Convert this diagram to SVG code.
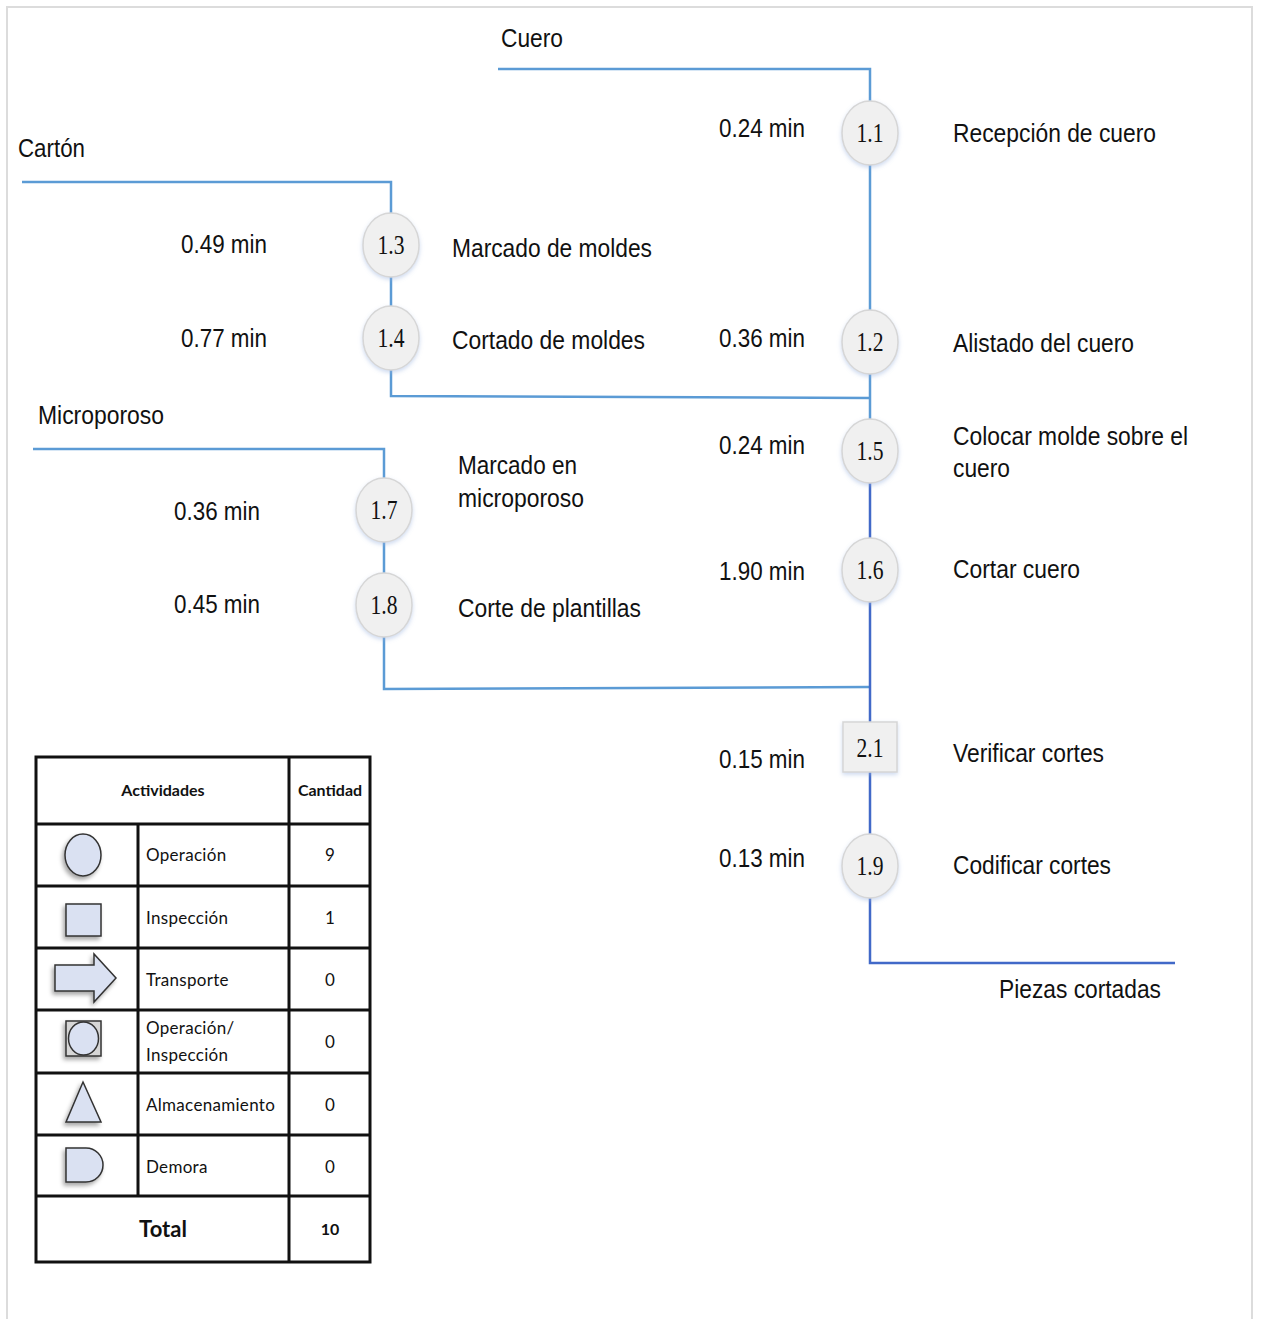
<svg xmlns="http://www.w3.org/2000/svg" width="1262" height="1319" viewBox="0 0 1262 1319">
  <defs>
    <filter id="soft" x="-30%" y="-30%" width="160%" height="160%">
      <feGaussianBlur in="SourceAlpha" stdDeviation="2"/>
      <feOffset dx="0" dy="2" result="b"/>
      <feFlood flood-color="#9bb4e0" flood-opacity="0.5"/>
      <feComposite in2="b" operator="in"/>
      <feMerge><feMergeNode/><feMergeNode in="SourceGraphic"/></feMerge>
    </filter>
    <filter id="drop" x="-30%" y="-30%" width="170%" height="170%">
      <feGaussianBlur in="SourceAlpha" stdDeviation="2"/>
      <feOffset dx="-2" dy="3" result="b"/>
      <feFlood flood-color="#000" flood-opacity="0.35"/>
      <feComposite in2="b" operator="in"/>
      <feMerge><feMergeNode/><feMergeNode in="SourceGraphic"/></feMerge>
    </filter>
  </defs>
  <style>
    .lbl { font-family: "Liberation Sans Narrow", "Liberation Sans", sans-serif; font-size: 26px; fill: #111; }
    .num { font-family: "Liberation Serif", serif; font-size: 27px; fill: #111; text-anchor: middle; }
    .op { fill: #f0f0f0; stroke: #d6d6d6; stroke-width: 1.5; filter: url(#soft); }
    .ln { fill: none; stroke: #5b9bd5; stroke-width: 2.5; }
    .ln2 { fill: none; stroke: #4169c8; stroke-width: 2.5; }
    .tb { font-family: Lato, "Open Sans", sans-serif; font-size: 17px; letter-spacing: 0.3px; fill: #111; }
    .tbb { font-family: Lato, "Open Sans", sans-serif; font-size: 16px; font-weight: bold; fill: #111; text-anchor: middle; }
    .tot { font-family: Lato, "Open Sans", sans-serif; font-size: 22px; font-weight: bold; fill: #111; text-anchor: middle; }
    .qty { font-family: Lato, "Open Sans", sans-serif; font-size: 17px; fill: #111; text-anchor: middle; }
    .grid { stroke: #111; stroke-width: 3; fill: none; }
    .sym { fill: #dae1f2; stroke: #333; stroke-width: 1.5; filter: url(#drop); }
  </style>

  <rect width="1262" height="1319" fill="#fff"/>
  <rect x="7" y="7" width="1245" height="1330" fill="none" stroke="#dcdcdc" stroke-width="2"/>

  <!-- connectors -->
  <g id="connectors">
    <polyline class="ln" points="498,69 870,69 870,450"/>
    <polyline class="ln" points="22,182 391,182 391,396 870,398"/>
    <polyline class="ln" points="33,449 384,449 384,689 870,687"/>
    <polyline class="ln2" points="870,450 870,963 1175,963"/>
  </g>

  <!-- material inputs and output -->
  <text class="lbl" x="501" y="47" textLength="62" lengthAdjust="spacingAndGlyphs">Cuero</text>
  <text class="lbl" x="18" y="157" textLength="67" lengthAdjust="spacingAndGlyphs">Cartón</text>
  <text class="lbl" x="38" y="424" textLength="126" lengthAdjust="spacingAndGlyphs">Microporoso</text>
  <text class="lbl" x="999" y="998" textLength="162" lengthAdjust="spacingAndGlyphs">Piezas cortadas</text>

  <g id="n1_1">
    <ellipse class="op" cx="870" cy="133" rx="28" ry="32"/>
    <text class="num" x="870" y="142" textLength="27" lengthAdjust="spacingAndGlyphs">1.1</text>
    <text class="lbl" x="719" y="137" textLength="86" lengthAdjust="spacingAndGlyphs">0.24 min</text>
    <text class="lbl" x="953" y="142" textLength="203" lengthAdjust="spacingAndGlyphs">Recepción de cuero</text>
  </g>
  <g id="n1_2">
    <ellipse class="op" cx="870" cy="342" rx="28" ry="32"/>
    <text class="num" x="870" y="351" textLength="27" lengthAdjust="spacingAndGlyphs">1.2</text>
    <text class="lbl" x="719" y="347" textLength="86" lengthAdjust="spacingAndGlyphs">0.36 min</text>
    <text class="lbl" x="953" y="352" textLength="181" lengthAdjust="spacingAndGlyphs">Alistado del cuero</text>
  </g>
  <g id="n1_3">
    <ellipse class="op" cx="391" cy="245" rx="28" ry="32"/>
    <text class="num" x="391" y="254" textLength="27" lengthAdjust="spacingAndGlyphs">1.3</text>
    <text class="lbl" x="181" y="253" textLength="86" lengthAdjust="spacingAndGlyphs">0.49 min</text>
    <text class="lbl" x="452" y="257" textLength="200" lengthAdjust="spacingAndGlyphs">Marcado de moldes</text>
  </g>
  <g id="n1_4">
    <ellipse class="op" cx="391" cy="338" rx="28" ry="32"/>
    <text class="num" x="391" y="347" textLength="27" lengthAdjust="spacingAndGlyphs">1.4</text>
    <text class="lbl" x="181" y="347" textLength="86" lengthAdjust="spacingAndGlyphs">0.77 min</text>
    <text class="lbl" x="452" y="349" textLength="193" lengthAdjust="spacingAndGlyphs">Cortado de moldes</text>
  </g>
  <g id="n1_5">
    <ellipse class="op" cx="870" cy="451" rx="28" ry="32"/>
    <text class="num" x="870" y="460" textLength="27" lengthAdjust="spacingAndGlyphs">1.5</text>
    <text class="lbl" x="719" y="454" textLength="86" lengthAdjust="spacingAndGlyphs">0.24 min</text>
    <text class="lbl" x="953" y="445" textLength="235" lengthAdjust="spacingAndGlyphs">Colocar molde sobre el</text>
    <text class="lbl" x="953" y="477" textLength="57" lengthAdjust="spacingAndGlyphs">cuero</text>
  </g>
  <g id="n1_6">
    <ellipse class="op" cx="870" cy="570" rx="28" ry="32"/>
    <text class="num" x="870" y="579" textLength="27" lengthAdjust="spacingAndGlyphs">1.6</text>
    <text class="lbl" x="719" y="580" textLength="86" lengthAdjust="spacingAndGlyphs">1.90 min</text>
    <text class="lbl" x="953" y="578" textLength="127" lengthAdjust="spacingAndGlyphs">Cortar cuero</text>
  </g>
  <g id="n1_7">
    <ellipse class="op" cx="384" cy="510" rx="28" ry="32"/>
    <text class="num" x="384" y="519" textLength="27" lengthAdjust="spacingAndGlyphs">1.7</text>
    <text class="lbl" x="174" y="520" textLength="86" lengthAdjust="spacingAndGlyphs">0.36 min</text>
    <text class="lbl" x="458" y="474" textLength="119" lengthAdjust="spacingAndGlyphs">Marcado en</text>
    <text class="lbl" x="458" y="507" textLength="126" lengthAdjust="spacingAndGlyphs">microporoso</text>
  </g>
  <g id="n1_8">
    <ellipse class="op" cx="384" cy="605" rx="28" ry="32"/>
    <text class="num" x="384" y="614" textLength="27" lengthAdjust="spacingAndGlyphs">1.8</text>
    <text class="lbl" x="174" y="613" textLength="86" lengthAdjust="spacingAndGlyphs">0.45 min</text>
    <text class="lbl" x="458" y="617" textLength="183" lengthAdjust="spacingAndGlyphs">Corte de plantillas</text>
  </g>
  <g id="n2_1">
    <rect class="op" x="843" y="722" width="54" height="50"/>
    <text class="num" x="870" y="757" textLength="27" lengthAdjust="spacingAndGlyphs">2.1</text>
    <text class="lbl" x="719" y="768" textLength="86" lengthAdjust="spacingAndGlyphs">0.15 min</text>
    <text class="lbl" x="953" y="762" textLength="151" lengthAdjust="spacingAndGlyphs">Verificar cortes</text>
  </g>
  <g id="n1_9">
    <ellipse class="op" cx="870" cy="866" rx="28" ry="32"/>
    <text class="num" x="870" y="875" textLength="27" lengthAdjust="spacingAndGlyphs">1.9</text>
    <text class="lbl" x="719" y="867" textLength="86" lengthAdjust="spacingAndGlyphs">0.13 min</text>
    <text class="lbl" x="953" y="874" textLength="158" lengthAdjust="spacingAndGlyphs">Codificar cortes</text>
  </g>

  <!-- summary table -->
  <g id="summary">
    <rect x="36" y="757" width="334" height="505" fill="#fff"/>
    <g class="grid">
      <rect x="36" y="757" width="334" height="505"/>
      <line x1="289" y1="757" x2="289" y2="1262"/>
      <line x1="138" y1="824" x2="138" y2="1196"/>
      <line x1="36" y1="824" x2="370" y2="824"/>
      <line x1="36" y1="886" x2="370" y2="886"/>
      <line x1="36" y1="948" x2="370" y2="948"/>
      <line x1="36" y1="1010" x2="370" y2="1010"/>
      <line x1="36" y1="1073" x2="370" y2="1073"/>
      <line x1="36" y1="1135" x2="370" y2="1135"/>
      <line x1="36" y1="1196" x2="370" y2="1196"/>
    </g>
    <text class="tbb" x="163" y="796">Actividades</text>
    <text class="tbb" x="330" y="796">Cantidad</text>

    <ellipse class="sym" cx="83" cy="855" rx="18" ry="21"/>
    <text class="tb" x="146" y="861">Operación</text>
    <text class="qty" x="330" y="861">9</text>

    <rect class="sym" x="66" y="904" width="35" height="32"/>
    <text class="tb" x="146" y="924">Inspección</text>
    <text class="qty" x="330" y="924">1</text>

    <path class="sym" d="M55,965 H94 V954 L116,978 L94,1002 V991 H55 Z"/>
    <text class="tb" x="146" y="986">Transporte</text>
    <text class="qty" x="330" y="986">0</text>

    <rect class="sym" x="66" y="1021" width="35" height="35" style="fill:#d6d6d6"/>
    <ellipse cx="83.5" cy="1038.5" rx="15" ry="16.5" fill="#dae1f2" stroke="#333" stroke-width="1.5"/>
    <text class="tb" x="146" y="1034">Operación/</text>
    <text class="tb" x="146" y="1061">Inspección</text>
    <text class="qty" x="330" y="1048">0</text>

    <path class="sym" d="M83,1082 L101,1122 H66 Z"/>
    <text class="tb" x="146" y="1111">Almacenamiento</text>
    <text class="qty" x="330" y="1111">0</text>

    <path class="sym" d="M66,1148 H86 A17,17 0 0 1 86,1182 H66 Z"/>
    <text class="tb" x="146" y="1173">Demora</text>
    <text class="qty" x="330" y="1173">0</text>

    <text class="tot" x="163" y="1237">Total</text>
    <text class="tbb" x="330" y="1235">10</text>
  </g>
</svg>
